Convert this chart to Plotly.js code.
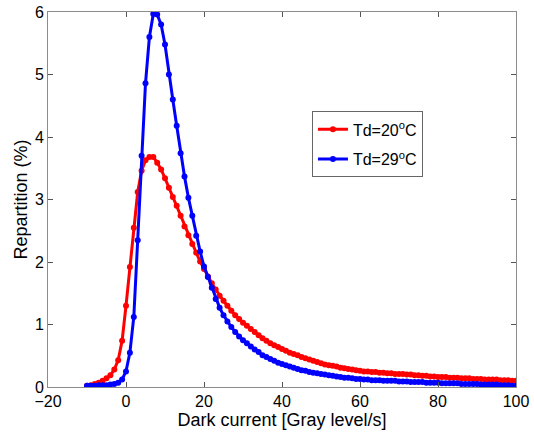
<!DOCTYPE html>
<html>
<head>
<meta charset="utf-8">
<script src="https://cdn.plot.ly/plotly-3.0.1.min.js"></script>
<style>html,body{margin:0;padding:0;background:#fff;}#chart{width:534px;height:437px;}</style>
</head>
<body>
<div id="chart"></div>
<script>
var darkCurrent = [];
for (var i = -10; i <= 100; i++) darkCurrent.push(i);

var seriesNames = ["Td=20<sup>o</sup>C", "Td=29<sup>o</sup>C"];

var rep20 = [
  0.02,0.03,0.05,0.07,0.10,0.14,0.19,0.28,0.43,0.74,
  1.30,1.92,2.55,3.12,3.46,3.63,3.68,3.68,3.59,3.48,
  3.34,3.19,3.04,2.90,2.74,2.57,2.43,2.29,2.15,2.01,
  1.89,1.77,1.66,1.56,1.46,1.38,1.30,1.22,1.15,1.09,
  1.03,0.98,0.93,0.88,0.83,0.78,0.74,0.70,0.67,0.64,
  0.61,0.58,0.55,0.53,0.51,0.48,0.46,0.44,0.42,0.40,
  0.38,0.36,0.35,0.34,0.33,0.31,0.30,0.29,0.28,0.27,
  0.26,0.25,0.25,0.24,0.24,0.23,0.23,0.22,0.22,0.21,
  0.21,0.21,0.20,0.20,0.19,0.19,0.18,0.18,0.17,0.17,
  0.16,0.16,0.16,0.15,0.15,0.15,0.14,0.14,0.14,0.13,
  0.13,0.13,0.12,0.12,0.12,0.12,0.11,0.11,0.11,0.10,
  0.10
];

var rep29 = [
  0.02,0.02,0.02,0.03,0.03,0.03,0.04,0.05,0.07,0.12,
  0.25,0.55,1.12,2.35,3.70,4.86,5.60,5.97,5.96,5.80,
  5.48,5.00,4.60,4.18,3.74,3.37,3.03,2.74,2.42,2.17,
  1.93,1.76,1.59,1.41,1.27,1.15,1.05,0.96,0.88,0.81,
  0.75,0.70,0.65,0.60,0.56,0.51,0.48,0.45,0.42,0.39,
  0.37,0.35,0.33,0.31,0.29,0.27,0.26,0.24,0.23,0.22,
  0.21,0.20,0.19,0.18,0.17,0.16,0.15,0.15,0.14,0.13,
  0.13,0.12,0.12,0.11,0.11,0.11,0.10,0.10,0.10,0.10,
  0.09,0.09,0.09,0.08,0.08,0.08,0.08,0.07,0.07,0.07,
  0.07,0.06,0.06,0.06,0.06,0.06,0.05,0.05,0.05,0.05,
  0.05,0.04,0.04,0.04,0.04,0.04,0.03,0.03,0.03,0.02,
  0.02
];

var xTicks = [-20, 0, 20, 40, 60, 80, 100];
var yTicks = [0, 1, 2, 3, 4, 5, 6];

var font = "Liberation Sans, Arial, Helvetica, sans-serif";

var traces = [
  {x: darkCurrent, y: rep20, name: seriesNames[0], legendgroup: "a", mode: "lines+markers",
   line: {color: "#ff0000", width: 3}, marker: {color: "#ff0000", size: 6}},
  {x: darkCurrent, y: rep29, name: seriesNames[1], legendgroup: "b", mode: "lines+markers",
   line: {color: "#0000ff", width: 3}, marker: {color: "#0000ff", size: 6}}
];

var axisCommon = {
  showgrid: false, zeroline: false, showline: true, linecolor: "#8c8c8c", linewidth: 1,
  mirror: "ticks", ticks: "inside", ticklen: 5, tickcolor: "#555",
  tickfont: {family: font, size: 16, color: "#000"}
};

var layout = {
  width: 534, height: 437,
  margin: {l: 48, r: 18, t: 12, b: 50},
  paper_bgcolor: "#fff", plot_bgcolor: "#fff",
  showlegend: true,
  legend: {x: 0.564, y: 0.735, xanchor: "left", yanchor: "top",
    bordercolor: "#666", borderwidth: 1, bgcolor: "#fff",
    traceorder: "grouped", tracegroupgap: 6, itemwidth: 30,
    font: {family: font, size: 16, color: "#000"}},
  xaxis: Object.assign({}, axisCommon, {range: [-20, 100], tickvals: xTicks,
    title: {text: "Dark current [Gray level/s]", font: {family: font, size: 18, color: "#000"}, standoff: 3}}),
  yaxis: Object.assign({}, axisCommon, {range: [0, 6], tickvals: yTicks,
    title: {text: "Repartition (%)", font: {family: font, size: 18, color: "#000"}, standoff: 2}})
};

Plotly.newPlot("chart", traces, layout, {displayModeBar: false, staticPlot: true});
</script>
</body>
</html>
